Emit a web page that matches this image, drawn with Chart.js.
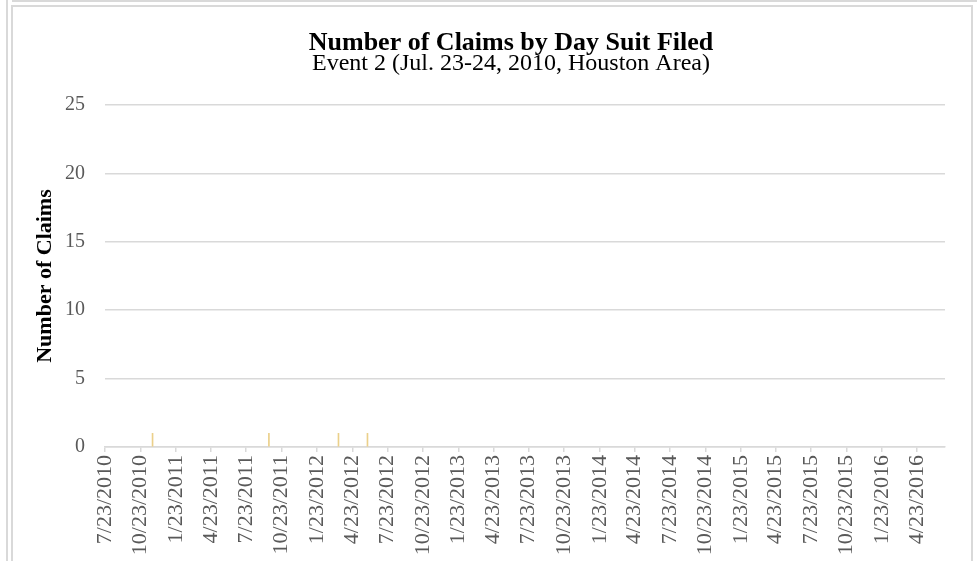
<!DOCTYPE html>
<html>
<head>
<meta charset="utf-8">
<script src="https://cdn.jsdelivr.net/npm/chart.js@4.4.1/dist/chart.umd.min.js"></script>
<style>
  html, body { margin: 0; padding: 0; background: #fff; overflow: hidden; width: 977px; height: 561px; }
  .cell-v { position: absolute; left: 6px; top: 0; width: 2px; height: 561px; background: #d9d9d9; }
  .cell-h { position: absolute; left: 12px; top: 0; width: 965px; height: 2px; background: #d9d9d9; }
  .frame { position: absolute; left: 11px; top: 5px; width: 958px; height: 600px; border: 2px solid #d9d9d9; }
  #claims { position: absolute; left: 0; top: 0; }
</style>
</head>
<body>
<div class="cell-v"></div>
<div class="cell-h"></div>
<div class="frame"></div>
<canvas id="claims" width="997" height="561"></canvas>
<script>
const tickLabels = [
  '7/23/2010', '10/23/2010', '1/23/2011', '4/23/2011', '7/23/2011', '10/23/2011',
  '1/23/2012', '4/23/2012', '7/23/2012', '10/23/2012', '1/23/2013', '4/23/2013',
  '7/23/2013', '10/23/2013', '1/23/2014', '4/23/2014', '7/23/2014', '10/23/2014',
  '1/23/2015', '4/23/2015', '7/23/2015', '10/23/2015', '1/23/2016', '4/23/2016',
];
const axisEnd = '7/4/2016';
const filedDates = ['11/23/2010', '9/20/2011', '3/18/2012', '6/1/2012'];
const claimCounts = [1, 1, 1, 1];

// jours depuis le 7/23/2010
const dayOf = (s) => {
  const [m, d, y] = s.split('/').map(Number);
  return Math.round((Date.UTC(y, m - 1, d) - Date.UTC(2010, 6, 23)) / 86400000);
};

const serif = 'Liberation Serif, Times New Roman, serif';
const grey = '#595959';
const line = '#d9d9d9';

const data = {
  datasets: [{
    label: 'Number of Claims',
    data: filedDates.map((d, i) => ({ x: dayOf(d), y: claimCounts[i] })),
    backgroundColor: '#ebd08a',
    barThickness: 1,
  }],
};

const options = {
  responsive: false,
  animation: false,
  layout: { padding: { top: 33, left: 25, right: 0, bottom: 0 } },
  plugins: {
    legend: { display: false },
    tooltip: { enabled: false },
    title: {
      display: true,
      text: 'Number of Claims by Day Suit Filed',
      color: '#000',
      font: { family: serif, size: 26, weight: 'bold', lineHeight: 0.8 },
      padding: { top: 0, bottom: 0 },
    },
    subtitle: {
      display: true,
      text: 'Event 2 (Jul. 23-24, 2010, Houston Area)',
      color: '#000',
      font: { family: serif, size: 24, lineHeight: 0.81 },
      padding: { top: 0, bottom: 31.8 },
    },
  },
  scales: {
    x: {
      type: 'linear',
      offset: false,
      min: 0,
      max: dayOf(axisEnd),
      afterBuildTicks: (s) => { s.ticks = tickLabels.map((l) => ({ value: dayOf(l) })); },
      afterFit: (s) => { s.height = 561 - 447; },
      ticks: {
        autoSkip: false,
        minRotation: 90,
        maxRotation: 90,
        padding: 3,
        color: grey,
        font: { family: serif, size: 22 },
        callback: (v, i) => tickLabels[i],
      },
      grid: { offset: false, drawOnChartArea: false, drawTicks: true, tickLength: 5, color: line, lineWidth: 1.5 },
      border: { color: line, width: 1.5 },
    },
    y: {
      min: 0,
      max: 25,
      afterFit: (s) => { s.width = 105 - 25; },
      ticks: { stepSize: 5, padding: 20, color: grey, font: { family: serif, size: 20 } },
      grid: { color: line, drawTicks: false, lineWidth: 1.5 },
      border: { display: false },
      title: {
        display: true,
        text: 'Number of Claims',
        color: '#000',
        font: { family: serif, size: 22, weight: 'bold', lineHeight: 1.2 },
        padding: { top: 7, bottom: 0 },
      },
    },
    // axe vide à droite pour centrer le titre comme dans Excel
    y2: {
      position: 'right',
      display: true,
      afterFit: (s) => { s.width = 997 - 945; },
      ticks: { display: false },
      grid: { display: false },
      border: { display: false },
    },
  },
};

new Chart(document.getElementById('claims'), { type: 'bar', data, options });
</script>
</body>
</html>
